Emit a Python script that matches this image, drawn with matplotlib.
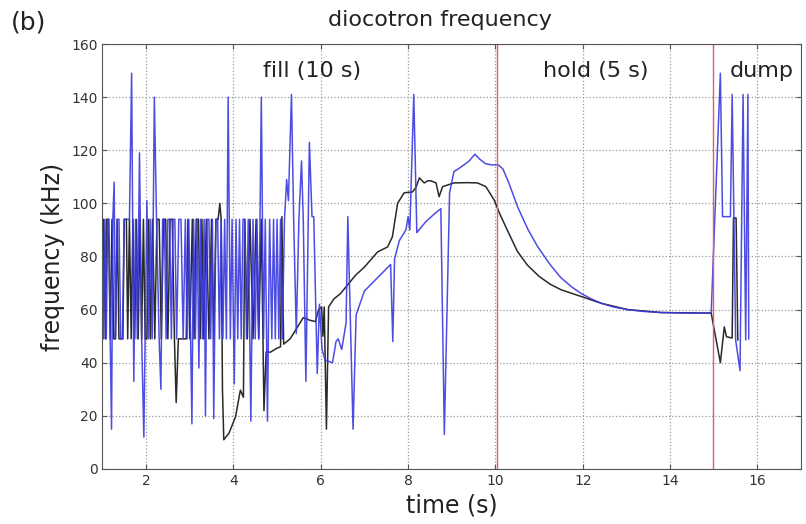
import matplotlib
matplotlib.use("Agg")
import matplotlib.pyplot as plt

# === Data ===
# blue trace: time (s) and diocotron frequency (kHz)
t_blue = [1.00, 1.03, 1.06, 1.09, 1.12, 1.15, 1.18, 1.21, 1.24, 1.27, 1.30, 1.34, 1.38, 1.42,
          1.46, 1.50, 1.54, 1.58, 1.62, 1.67, 1.72, 1.76, 1.80, 1.85, 1.90, 1.95, 2.02, 2.06,
          2.10, 2.14, 2.19, 2.24, 2.30, 2.34, 2.38, 2.42, 2.46, 2.50, 2.54, 2.58, 2.62, 2.66,
          2.70, 2.75, 2.80, 2.85, 2.90, 2.94, 2.98, 3.02, 3.05, 3.09, 3.13, 3.17, 3.21, 3.25,
          3.29, 3.33, 3.36, 3.40, 3.44, 3.48, 3.52, 3.55, 3.60, 3.64, 3.68, 3.72, 3.76, 3.80,
          3.84, 3.88, 3.93, 3.97, 4.02, 4.06, 4.10, 4.14, 4.18, 4.22, 4.26, 4.30, 4.34, 4.40,
          4.45, 4.50, 4.54, 4.58, 4.64, 4.69, 4.73, 4.78, 4.83, 4.88, 4.92, 4.96, 5.00, 5.04,
          5.08, 5.12, 5.17, 5.22, 5.26, 5.33, 5.38, 5.44, 5.50, 5.56, 5.60, 5.66, 5.74, 5.80,
          5.84, 5.92, 5.97, 6.03, 6.10, 6.27, 6.35, 6.40, 6.48, 6.58, 6.62, 6.74, 6.81, 7.00,
          7.30, 7.60, 7.65, 7.69, 7.80, 7.95, 8.00, 8.04, 8.13, 8.20, 8.40, 8.60, 8.75, 8.83,
          8.95, 9.05, 9.15, 9.28, 9.40, 9.53, 9.65, 9.77, 9.90, 10.06, 10.17, 10.30, 10.51,
          10.75, 10.97, 11.25, 11.50, 11.75, 11.97, 12.20, 12.42, 12.70, 13.03, 13.40, 13.80,
          14.40, 14.94, 15.15, 15.20, 15.38, 15.42, 15.50, 15.60, 15.67, 15.73, 15.78, 15.80]
f_blue = [94, 49, 94, 49, 94, 94, 49, 15, 94, 108, 49, 94, 94, 49,
          49, 94, 94, 94, 94, 149, 33, 94, 49, 119, 49, 12, 101, 49,
          94, 49, 140, 94, 49, 30, 94, 94, 49, 94, 94, 49, 94, 94,
          49, 94, 94, 49, 94, 49, 94, 49, 17, 94, 49, 94, 38, 94,
          49, 94, 20, 94, 94, 49, 94, 19, 94, 94, 49, 94, 49, 94,
          49, 140, 49, 94, 32, 94, 49, 94, 49, 94, 94, 49, 94, 18,
          94, 49, 94, 49, 140, 49, 94, 18, 94, 49, 94, 49, 94, 49,
          94, 49, 94, 109, 101, 141, 94, 51, 94, 116, 94, 33, 123, 95,
          95, 36, 62, 45, 41, 40, 48, 49, 45, 55, 95, 15, 58, 67,
          72, 77, 48, 79, 86, 90, 95, 90, 141, 89, 93, 96, 98, 13,
          104, 112, 113, 114.5, 116, 118.5, 116.5, 115, 114.5, 114.5, 113, 108, 98.6,
          90, 83.6, 77, 72, 68.5, 66, 64, 62.4, 61, 60, 59.3, 58.9,
          58.7, 58.7, 149, 95, 95, 141, 48.6, 37, 141, 48.6, 141, 49]

# black trace
t_black = [1.00, 1.03, 1.07, 1.10, 1.14, 1.18, 1.22, 1.26, 1.30, 1.34, 1.38, 1.43, 1.47, 1.50,
           1.55, 1.58, 1.62, 1.66, 1.70, 1.74, 1.78, 1.82, 1.86, 1.90, 1.94, 1.98, 2.02, 2.06,
           2.10, 2.15, 2.20, 2.25, 2.30, 2.35, 2.40, 2.45, 2.50, 2.55, 2.60, 2.65, 2.69, 2.74,
           2.80, 2.86, 2.92, 2.96, 3.00, 3.06, 3.10, 3.15, 3.20, 3.24, 3.28, 3.32, 3.38, 3.44,
           3.50, 3.55, 3.60, 3.65, 3.69, 3.72, 3.75, 3.78, 3.90, 4.05, 4.16, 4.23, 4.26, 4.32,
           4.38, 4.45, 4.52, 4.58, 4.64, 4.70, 4.75, 4.85, 5.00, 5.08, 5.11, 5.15, 5.30, 5.45,
           5.60, 5.75, 5.88, 5.95, 6.02, 6.05, 6.08, 6.13, 6.18, 6.30, 6.45, 6.60, 6.80, 7.00,
           7.30, 7.53, 7.64, 7.76, 7.91, 8.10, 8.18, 8.26, 8.37, 8.45, 8.52, 8.64, 8.71, 8.79,
           9.05, 9.36, 9.59, 9.78, 9.97, 10.10, 10.27, 10.50, 10.73, 11.00, 11.26, 11.50, 11.97,
           12.42, 13.03, 13.80, 14.94, 15.15, 15.24, 15.29, 15.42, 15.45, 15.51, 15.55]
f_black = [49, 94, 49, 94, 94, 49, 94, 49, 49, 94, 49, 49, 49, 94,
           94, 49, 94, 49, 94, 49, 94, 49, 94, 49, 94, 49, 49, 94,
           49, 94, 49, 94, 94, 49, 94, 94, 49, 94, 94, 49, 25, 49,
           49, 49, 49, 94, 49, 94, 49, 94, 94, 49, 94, 49, 94, 49,
           94, 49, 94, 94, 100, 94, 30, 11, 13.5, 19.7, 29.7, 27, 94, 49,
           94, 49, 94, 49, 94, 22, 44, 44, 45.5, 46, 95, 47, 49, 53,
           57, 56, 55.5, 60, 61, 50, 61, 15, 61, 64, 66, 69, 73, 76,
           81.7, 83.6, 87.4, 100, 104, 104.3, 106, 109.6, 107.7, 108.5, 108.5, 107.7, 102.5, 106.3,
           107.7, 107.8, 107.7, 106.3, 101.3, 96, 90, 82, 76.8, 72.5, 69.5, 67.5, 64.9,
           62.4, 60, 58.9, 58.7, 40, 53.5, 49.8, 49.3, 94.5, 94.5, 48.6]

phase_edges = [10.03, 14.97]
phase_labels = ["fill (10 s)", "hold (5 s)", "dump"]
phase_label_x = [5.8, 12.3, 16.1]

# === Plot ===
fig = plt.figure(figsize=(8.06, 5.24), dpi=100)
ax = fig.add_axes([0.127, 0.105, 0.867, 0.811])

ax.plot(t_black, f_black, color="#2a2a2a", lw=1.1)
ax.plot(t_blue, f_blue, color="#3a3ae0", lw=1.1, alpha=0.9)
for xe in phase_edges:
    ax.axvline(xe, color="#e06060", lw=1.0)

for lab, xl in zip(phase_labels, phase_label_x):
    ax.text(xl, 150, lab, fontsize=16, ha="center", va="center", color="#222222")

ax.set_xlim(1, 17)
ax.set_ylim(0, 160)
ax.set_xticks(range(2, 17, 2))
ax.set_yticks(range(0, 161, 20))
ax.grid(True, linestyle=":", color="#999999", lw=0.9)
ax.tick_params(direction="in", top=True, right=True, labelsize=10,
               labelcolor="#333333", color="#555555")
for sp in ax.spines.values():
    sp.set_color("#555555")

ax.set_xlabel("time (s)", fontsize=17, color="#222222")
ax.set_ylabel("frequency (kHz)", fontsize=17, color="#222222")
fig.text(0.546, 0.962, "diocotron frequency", fontsize=16, ha="center", va="center",
         color="#222222")
fig.text(0.013, 0.958, "(b)", fontsize=18, ha="left", va="center", color="#222222")

plt.savefig("out.png", dpi=100)
plt.close()
